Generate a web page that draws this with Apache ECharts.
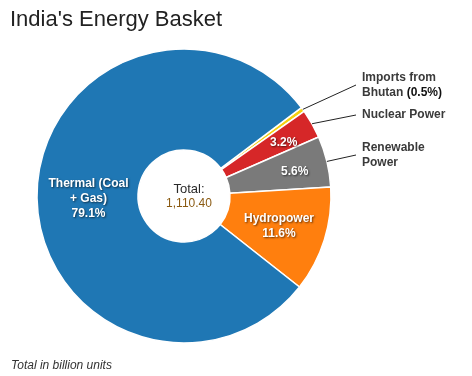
<!DOCTYPE html>
<html lang="en" style="height: 100%">
<head>
<meta charset="UTF-8">
<script src="https://cdn.jsdelivr.net/npm/echarts@6/dist/echarts.min.js"></script>
</head>
<body style="height: 100%; margin: 0; background: #fff">
<div id="container" style="width: 472px; height: 376px"></div>
<script>
// energy mix, clockwise from the imports sliver
var sources = ['Imports from Bhutan', 'Nuclear Power', 'Renewable Power', 'Hydropower', 'Thermal (Coal + Gas)'];
var shares = [0.5, 3.2, 5.6, 11.6, 79.1];
var colors = ['#f5d10f', '#d62728', '#7a7a7a', '#ff7f0e', '#1f77b4'];
var totalUnits = 1110.40;

// what goes inside each slice
var innerText = ['', '3.2%', '5.6%', 'Hydropower\n11.6%', 'Thermal (Coal\n+ Gas)\n79.1%'];
// what sits outside on the right with a leader line
var outerText = ['Imports from\nBhutan {b|(0.5%)}', 'Nuclear Power', 'Renewable\nPower', '', ''];
var outerY = [85, 115, 155];

var dom = document.getElementById('container');
var myChart = echarts.init(dom);

var pieData = sources.map(function (name, i) {
    return { name: name, value: shares[i], itemStyle: { color: colors[i] } };
});

var labelData = sources.map(function (name, i) {
    return {
        name: name,
        value: shares[i],
        label: { show: outerText[i] !== '' },
        labelLine: { show: outerText[i] !== '' }
    };
});

var option = {
    animation: false,
    title: [{
        text: "India's Energy Basket",
        left: 5,
        top: 4,
        textStyle: { fontFamily: 'Liberation Sans', fontSize: 22, fontWeight: 'normal', color: '#222' }
    }, {
        text: 'Total in billion units',
        left: 6,
        top: 355,
        textStyle: { fontFamily: 'Liberation Sans', fontSize: 12, fontStyle: 'italic', fontWeight: 'normal', color: '#333' }
    }, {
        text: 'Total:',
        subtext: totalUnits.toLocaleString('en-US', { minimumFractionDigits: 2 }),
        left: 184,
        top: 178,
        textAlign: 'center',
        itemGap: 2,
        textStyle: { fontFamily: 'Liberation Sans', fontSize: 13, fontWeight: 'normal', color: '#2a2a2a' },
        subtextStyle: { fontFamily: 'Liberation Sans', fontSize: 12, color: '#8a5a12' }
    }],
    series: [{
        name: 'share',
        type: 'pie',
        center: [184, 196],
        radius: [46, 147],
        startAngle: 37,
        clockwise: true,
        silent: true,
        data: pieData,
        itemStyle: { borderColor: '#fff', borderWidth: 1.5 },
        label: {
            position: 'inside',
            formatter: function (p) { return innerText[p.dataIndex]; },
            fontFamily: 'Liberation Sans',
            fontSize: 12,
            fontWeight: 'bold',
            color: '#fff',
            lineHeight: 15,
            textShadowColor: 'rgba(0,0,0,0.6)',
            textShadowBlur: 2,
            textShadowOffsetX: 1,
            textShadowOffsetY: 1
        },
        labelLine: { show: false },
        labelLayout: function (params) {
            // thin slices carry their percentage nearer the rim
            if (params.dataIndex === 4) return { dy: 4, dx: 4 };
            if (params.dataIndex === 1) return { dx: 13, dy: -4 };
            if (params.dataIndex === 2) return { dx: 14, dy: -1 };
            return {};
        }
    }, {
        name: 'names',
        type: 'pie',
        center: [184, 196],
        radius: [46, 147],
        startAngle: 37,
        clockwise: true,
        silent: true,
        z: 3,
        data: labelData,
        itemStyle: { color: 'rgba(0,0,0,0)' },
        label: {
            position: 'outside',
            formatter: function (p) { return outerText[p.dataIndex]; },
            fontFamily: 'Liberation Sans',
            fontSize: 12,
            fontWeight: 'bold',
            color: '#3a3a3a',
            lineHeight: 15,
            padding: [0, 0, 0, 6],
            rich: {
                b: { fontFamily: 'Liberation Sans', fontSize: 12, fontWeight: 'bold', color: '#111' }
            }
        },
        labelLine: {
            length: 20,
            length2: 0,
            lineStyle: { color: '#222', width: 1 }
        },
        labelLayout: function (params) {
            if (params.dataIndex > 2) return {};
            return { x: 356, y: outerY[params.dataIndex], align: 'left', verticalAlign: 'middle' };
        }
    }]
};

myChart.setOption(option);
</script>
</body>
</html>
